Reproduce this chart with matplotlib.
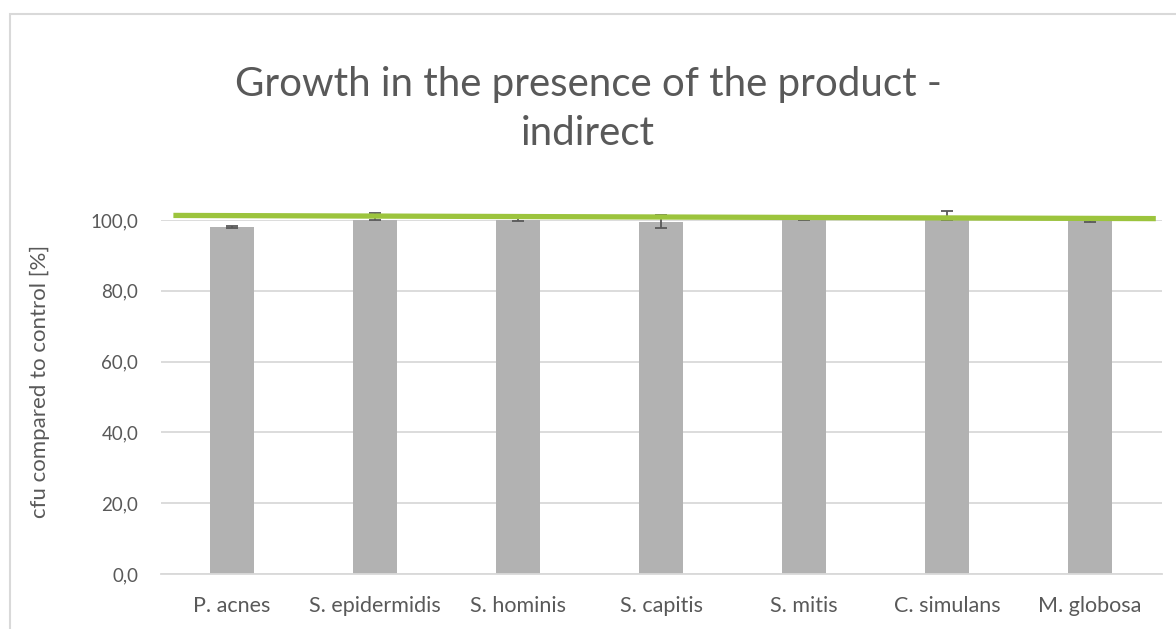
import matplotlib.pyplot as plt
from matplotlib.patches import Rectangle
from matplotlib.ticker import FuncFormatter

species = ['P. acnes', 'S. epidermidis', 'S. hominis', 'S. capitis',
           'S. mitis', 'C. simulans', 'M. globosa']
growth = [98.1, 101.0, 100.2, 99.5, 100.3, 101.2, 99.9]
growth_err = [0.3, 1.1, 0.6, 1.8, 0.4, 1.3, 0.5]

# green reference line drawn over the chart (start / end)
ref_x = [-0.41, 6.46]
ref_y = [101.3, 100.4]

plt.rcParams['font.family'] = ['Lato', 'DejaVu Sans']
text_grey = '#595959'

fig = plt.figure(figsize=(11.76, 6.29), dpi=100)
ax = fig.add_axes([0.1365, 0.0874, 0.8512, 0.5628])

x = list(range(len(species)))
ax.bar(x, growth, width=0.31, color='#b2b2b2', zorder=2)
ax.errorbar(x, growth, yerr=growth_err, fmt='none', ecolor=text_grey,
            elinewidth=1.3, capsize=4.5, capthick=1.3, zorder=3, clip_on=False)
ax.plot(ref_x, ref_y, color='#9cc43d', linewidth=3.8, zorder=4,
        solid_capstyle='butt', clip_on=False)

ax.set_xlim(-0.5, len(species) - 0.5)
ax.set_ylim(0, 100)
ax.set_yticks([0, 20, 40, 60, 80, 100])
ax.yaxis.set_major_formatter(FuncFormatter(lambda v, p: f'{v:.1f}'.replace('.', ',')))
ax.set_xticks(x)
ax.set_xticklabels(species)
ax.tick_params(length=0, colors=text_grey)
ax.tick_params(axis='x', labelsize=15.5, pad=16)
ax.tick_params(axis='y', labelsize=13.5, pad=16)
ax.grid(axis='y', color='#d9d9d9', linewidth=1.3, zorder=0)
ax.set_axisbelow(True)
for side in ['top', 'right', 'left']:
    ax.spines[side].set_visible(False)
ax.spines['bottom'].set_color('#d9d9d9')
ax.spines['bottom'].set_linewidth(1.3)

ax.set_ylabel('cfu compared to control [%]', fontsize=16, color=text_grey)
ax.yaxis.set_label_coords(-0.11, 0.545)

fig.text(0.5, 0.826, 'Growth in the presence of the product -\nindirect',
         ha='center', va='center', fontsize=29, color=text_grey, linespacing=1.4)

fig.patches.append(Rectangle((10 / 1176, -0.1), 1.2, 1 - 14 / 629 + 0.1,
                             transform=fig.transFigure, fill=False,
                             edgecolor='#d9d9d9', linewidth=1.5))

fig.savefig('out.png', dpi=100)
